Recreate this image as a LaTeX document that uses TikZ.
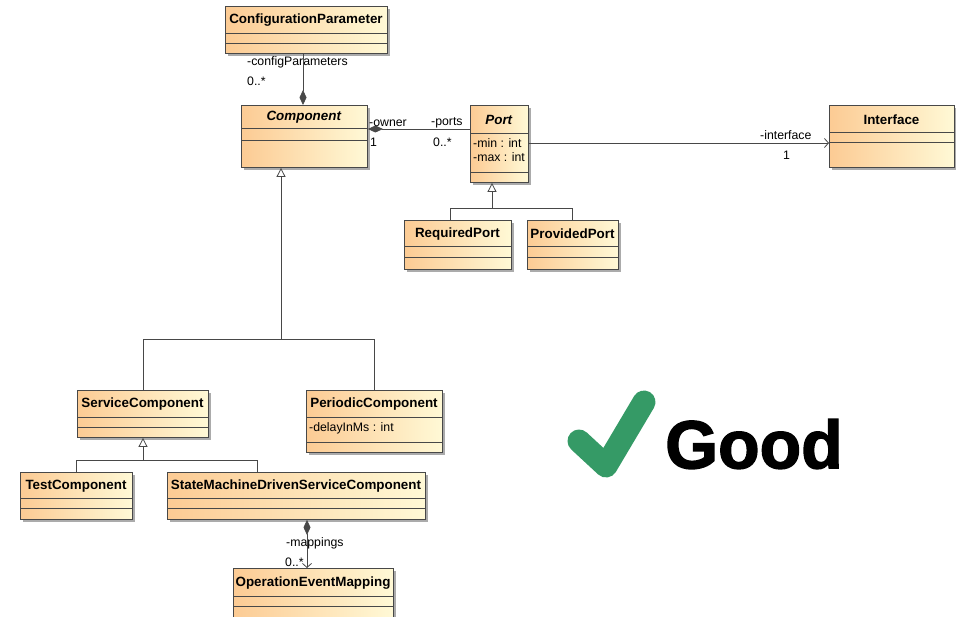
\documentclass[tikz,border=0pt]{standalone}
\usepackage{fontspec}
\setmainfont{Liberation Sans}
\newfontfamily\verdictfont[FakeBold=2]{Liberation Sans Bold}
\usetikzlibrary{arrows.meta,calc,shadows}

\definecolor{umlorange}{RGB}{252,203,148}
\definecolor{umlyellow}{RGB}{255,249,214}
\definecolor{umlline}{RGB}{72,72,72}
\definecolor{shadowgray}{RGB}{150,150,150}
\definecolor{goodgreen}{RGB}{53,154,102}

\tikzset{
  classbox/.style={draw=umlline, line width=0.9pt, left color=umlorange, right color=umlyellow,
    drop shadow={shadow xshift=2.5pt, shadow yshift=-2.5pt, fill=shadowgray, opacity=0.8},
    inner sep=0pt, anchor=north west},
  divider/.style={draw=umlline, line width=0.9pt},
  classtitle/.style={inner sep=0pt, font=\fontsize{13.4}{15}\selectfont\bfseries},
  attr/.style={inner sep=0pt, anchor=west, font=\fontsize{12.3}{14}\selectfont},
  role/.style={inner sep=0pt, anchor=west, font=\fontsize{12.3}{14}\selectfont},
  assoc/.style={draw=umlline, line width=0.8pt},
  composite/.style={{Diamond[length=15pt,width=7pt]}-},
  navigable/.style={-{Straight Barb[length=4pt,width=9pt]}},
  compnav/.style={{Diamond[length=15pt,width=7pt]}-{Straight Barb[length=4pt,width=9pt]}},
  genarrow/.style={-{Triangle[open,fill=white,length=9pt,width=9pt]}},
}

% class box: name, left, top, right, bottom, first divider, second divider, title
\newcommand\umlclass[8]{%
  \node[classbox, minimum width={(#4-#2)*1pt}, minimum height={(#5-#3)*1pt}] (#1) at (#2,#3) {};
  \draw[divider] (#2,#6) -- (#4,#6);
  \draw[divider] (#2,#7) -- (#4,#7);
  \node[classtitle] (#1-title) at ({(#2+#4)/2},{(#3+#6)/2+1}) {#8};
}

\begin{document}
\begin{tikzpicture}[x=1pt,y=-1pt]
\fill[white] (0,0) rectangle (956,617);
\useasboundingbox (0,0) rectangle (956,617);

% classes
\umlclass{cp}{225}{6}{387}{53}{33}{43}{ConfigurationParameter}
\umlclass{comp}{241}{105}{367}{167}{128}{140}{\textit{Component}}
\umlclass{port}{470}{105}{528}{182}{133}{172}{\textit{Port}}
\node[attr] (portmin) at (473,143) {-min : int};
\node[attr] (portmax) at (473,157) {-max : int};
\umlclass{iface}{829}{105}{954}{167}{132}{142}{Interface}
\umlclass{req}{404}{220}{511}{269}{246}{257}{RequiredPort}
\umlclass{prov}{527}{220}{618}{269}{246}{257}{ProvidedPort}
\umlclass{svc}{77}{390}{208}{437}{417}{427}{ServiceComponent}
\umlclass{per}{306}{390}{442}{452}{417}{442}{PeriodicComponent}
\node[attr] (perdelay) at (309,428) {-delayInMs : int};
\umlclass{test}{20}{472}{132}{519}{498}{508}{TestComponent}
\umlclass{smd}{167}{472}{425}{519}{498}{508}{StateMachineDrivenServiceComponent}
\umlclass{oem}{233}{568}{393}{621}{596}{606}{OperationEventMapping}

% associations
\draw[assoc, composite] ($(comp.north west)+(62,0)$) -- ($(cp.south west)+(78,0)$);
\node[role] (cprole) at (247,62) {-configParameters};
\node[role] (cpmult) at (247,81) {0..*};

\draw[assoc, composite] ($(comp.north east)+(0,24)$) -- ($(port.north west)+(0,24)$);
\node[role] (ownerrole) at (369,123) {-owner};
\node[role] (ownermult) at (370,142) {1};
\node[role] (portsrole) at (431,123) {-ports};
\node[role] (portsmult) at (433,142) {0..*};

\draw[assoc, navigable] ($(port.north east)+(0,38)$) -- ($(iface.north west)+(0,38)$);
\node[role] (ifacerole) at (760,135) {-interface};
\node[role] (ifacemult) at (783,155) {1};

\draw[assoc, compnav] ($(smd.south west)+(140,0)$) -- ($(oem.north west)+(74,0)$);
\node[role] (maprole) at (286,543) {-mappings};
\node[role] (mapmult) at (285,562) {0..*};

% generalizations
\draw[assoc] ($(req.north west)+(46,0)$) |- ($(prov.north west)+(45,-12)$) -- ($(prov.north west)+(45,0)$);
\draw[assoc, genarrow] ($(port.south west)+(22,26)$) -- ($(port.south west)+(22,0)$);

\draw[assoc] ($(svc.north west)+(66,0)$) |- ($(per.north west)+(68,-51)$) -- ($(per.north west)+(68,0)$);
\draw[assoc, genarrow] ($(comp.south west)+(40,172)$) -- ($(comp.south west)+(40,0)$);

\draw[assoc] ($(test.north west)+(56,0)$) |- ($(smd.north west)+(90,-12)$) -- ($(smd.north west)+(90,0)$);
\draw[assoc, genarrow] ($(svc.south west)+(66,23)$) -- ($(svc.south west)+(66,0)$);

% verdict
\draw[goodgreen, line width=23pt, line cap=round, line join=round] (579,441) -- (606,466) -- (644,402);
\node[anchor=west, inner sep=0pt, font=\fontsize{68}{72}\selectfont\verdictfont] (good) at (665,444) {Good};
\end{tikzpicture}
\end{document}
